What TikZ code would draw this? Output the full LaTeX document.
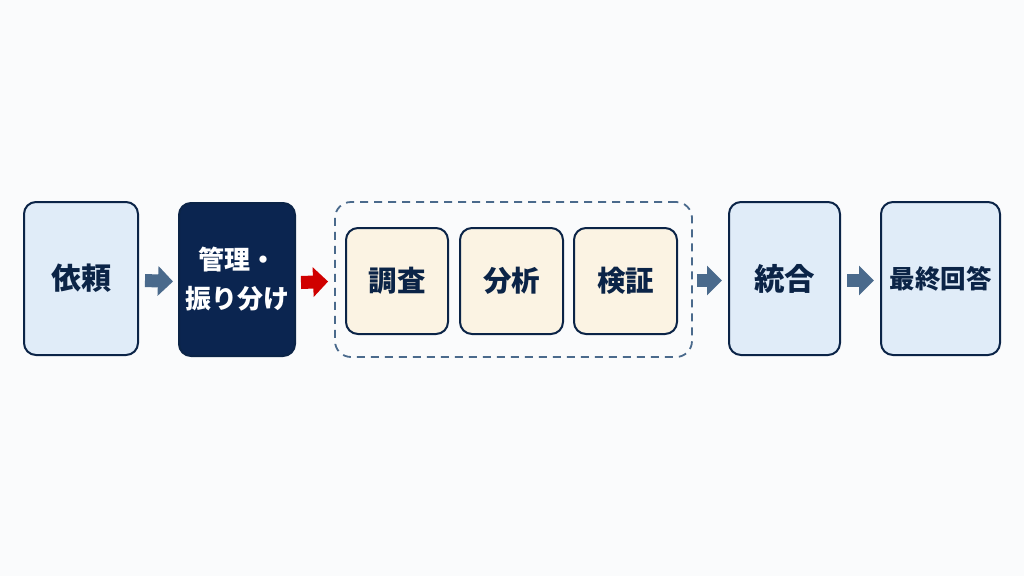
\documentclass[tikz,border=0pt]{standalone}
\usepackage{fontspec}
\newfontfamily\cjk{Noto Sans CJK JP}
\usetikzlibrary{arrows.meta}
\definecolor{bg}{HTML}{FAFBFC}
\definecolor{navy}{HTML}{0B2447}
\definecolor{navyfill}{HTML}{0B2550}
\definecolor{lightblue}{HTML}{E0ECF8}
\definecolor{beige}{HTML}{FBF3E3}
\definecolor{slate}{HTML}{4A6A8C}
\definecolor{redarrow}{HTML}{D00000}
\tikzset{
  box/.style={draw=navy, line width=2pt, rounded corners=12pt, fill=lightblue,
    text=navy, font=\cjk\bfseries, align=center, inner sep=0pt},
  darkbox/.style={box, fill=navyfill, text=white},
  subbox/.style={box, fill=beige, minimum width=102pt, minimum height=106pt, font=\cjk\bfseries\fontsize{28.5}{32}\selectfont},
  container/.style={draw=slate, line width=1.8pt, dash pattern=on 8pt off 6pt, rounded corners=16pt, fill=none},
  blockarrow/.style={line width=13pt, draw=slate, -{Triangle[length=15pt,width=29pt]}, shorten >=0pt},
  redblock/.style={blockarrow, draw=redarrow}
}
\begin{document}
\begin{tikzpicture}[x=1pt,y=-1pt]
\fill[bg] (0,0) rectangle (1024,576);
\useasboundingbox (0,0) rectangle (1024,576);
\node[box, minimum width=114pt, minimum height=153pt, font=\cjk\bfseries\fontsize{30}{34}\selectfont] (req) at (81,278.5) {依頼};
\node[darkbox, minimum width=116pt, minimum height=153pt, font=\cjk\bfseries\fontsize{26}{39}\selectfont] (mgmt) at (237,279.5) {管理・\\振り分け};
\node[container, minimum width=357pt, minimum height=155pt] (cont) at (513.5,279.5) {};
\node[subbox] (inv) at (397,281) {調査};
\node[subbox, minimum width=103pt] (ana) at (511.5,281) {分析};
\node[subbox, minimum width=103pt] (ver) at (625.5,281) {検証};
\node[box, minimum width=111pt, minimum height=153pt, font=\cjk\bfseries\fontsize{30.5}{34}\selectfont] (int) at (784.5,278.5) {統合};
\node[box, minimum width=119pt, minimum height=153pt, font=\cjk\bfseries\fontsize{25.5}{29}\selectfont] (fin) at (940.5,278.5) {最終回答};
\draw[blockarrow] ([xshift=6pt,yshift=-2pt]req.east) -- ([xshift=-5pt,yshift=-2pt]mgmt.west);
\draw[redblock] ([xshift=5pt,yshift=-3pt]mgmt.east) -- ([xshift=-6pt,yshift=-2pt]cont.west);
\draw[blockarrow] ([xshift=4pt,yshift=-1pt]cont.east) -- ([xshift=-6pt,yshift=-2pt]int.west);
\draw[blockarrow] ([xshift=6pt,yshift=-2pt]int.east) -- ([xshift=-6pt,yshift=-2pt]fin.west);
\end{tikzpicture}
\end{document}
